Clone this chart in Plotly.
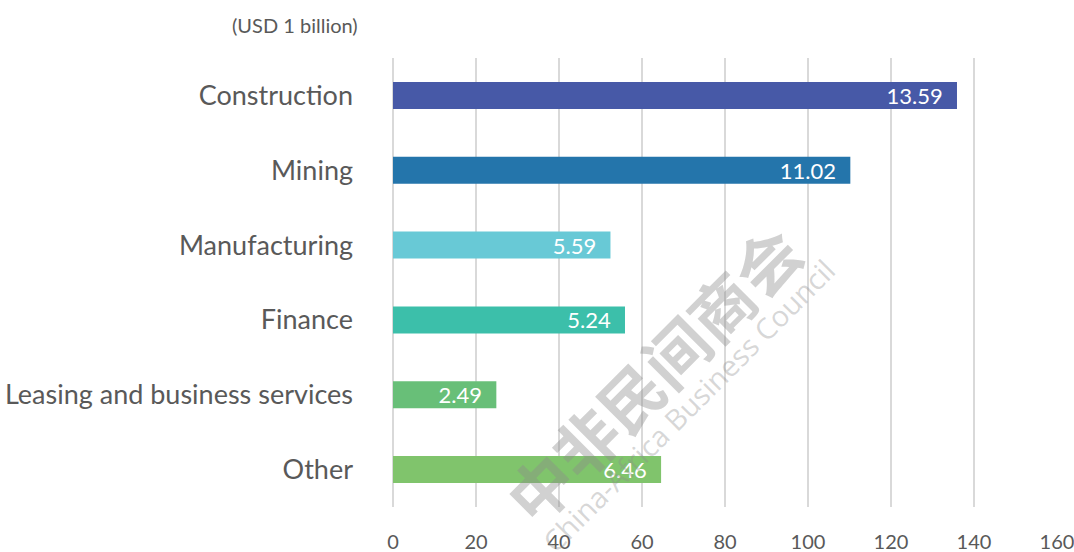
import plotly.graph_objects as go

categories = ["Construction", "Mining", "Manufacturing", "Finance",
              "Leasing and business services", "Other"]
bar_values = [135.9, 110.2, 52.4, 55.9, 24.9, 64.6]
label_texts = ["13.59", "11.02", "5.59", "5.24", "2.49", "6.46"]
bar_colors = ["#4759A7", "#2475AB", "#68C9D6", "#3CBFAA", "#68BF78", "#80C46C"]
x_ticks = [0, 20, 40, 60, 80, 100, 120, 140, 160]

FONT = "Lato, 'Open Sans', sans-serif"

fig = go.Figure(go.Bar(
    y=categories, x=bar_values, orientation="h",
    marker=dict(color=bar_colors, line=dict(width=0)),
    text=label_texts, texttemplate="%{text}&nbsp;&nbsp;",
    textposition="inside", insidetextanchor="end", constraintext="none",
    textfont=dict(color="white", size=22, family=FONT),
    width=0.36, cliponaxis=False, hoverinfo="skip",
))

fig.update_layout(
    width=1074, height=552,
    margin=dict(l=393, r=17, t=58, b=45),
    plot_bgcolor="white", paper_bgcolor="white",
    showlegend=False,
    font=dict(family=FONT, color="#595959"),
    xaxis=dict(range=[0, 160], tickvals=x_ticks, showgrid=True,
               gridcolor="#D9D9D9", gridwidth=2, zeroline=True,
               zerolinecolor="#D9D9D9", zerolinewidth=2, showline=False,
               ticks="", tickfont=dict(size=20, color="#595959"),
               ticklabelstandoff=21, ticklabeloverflow="allow",
               automargin=False),
    yaxis=dict(autorange="reversed", showgrid=False, ticks="",
               tickfont=dict(size=27, color="#595959"),
               ticklabelstandoff=39, automargin=False),
    annotations=[
        dict(text="(USD 1 billion)", xref="paper", yref="paper",
             x=-0.049, y=1.0735, xanchor="right", yanchor="middle",
             showarrow=False, font=dict(size=20, color="#595959")),
        dict(text="<b>中非民间商会</b>", xref="paper", yref="paper",
             x=(652 - 393) / 664, y=(507 - 373) / 449,
             xanchor="center", yanchor="middle",
             showarrow=False, textangle=-45,
             font=dict(size=64, color="rgba(140,140,140,0.4)",
                       family="'Noto Sans CJK SC'")),
        dict(text="China-Africa Business Council", xref="paper", yref="paper",
             x=(688 - 393) / 664, y=(507 - 405) / 449,
             xanchor="center", yanchor="middle",
             showarrow=False, textangle=-45,
             font=dict(size=29, color="rgba(140,140,140,0.35)",
                       family="'Open Sans'")),
    ],
)

fig.write_html("out.html", config={"displayModeBar": False},
               post_script="document.body.style.margin='0';"
                           "document.body.style.overflow='hidden';")
